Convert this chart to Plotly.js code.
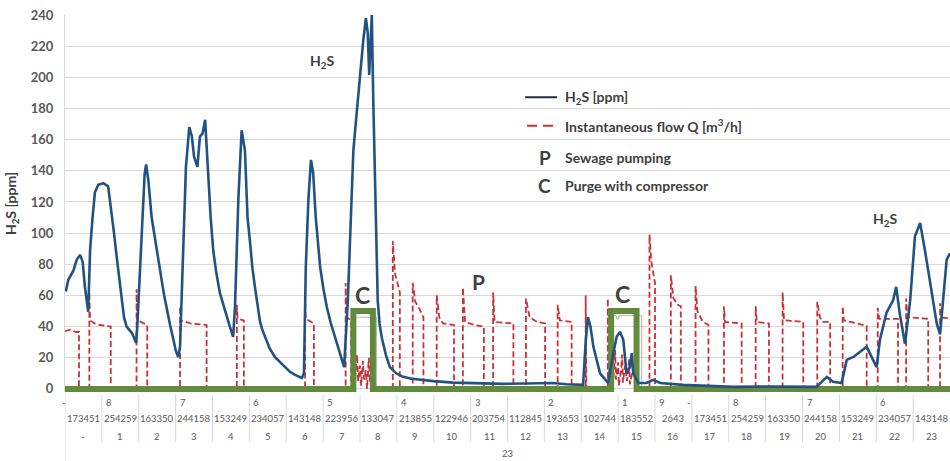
<!DOCTYPE html>
<html><head><meta charset="utf-8">
<script src="https://cdn.plot.ly/plotly-3.0.1.min.js"></script>
<style>html,body{margin:0;padding:0;background:#fff}#chart{width:950px;height:461px}</style>
</head><body><div id="chart"></div>
<script>
// ---- data (time in hours along the 24 categories) ----
const hourLabels = ['-','1','2','3','4','5','6','7','8','9','10','11','12','13','14','15','16','17','18','19','20','21','22','23'];
const secondLabels = ['173451','254259','163350','244158','153249','234057','143148','223956','133047','213855','122946','203754','112845','193653','102744','183552','2643','173451','254259','163350','244158','153249','234057','143148'];
const topLabels = ['-','8','7','6','5','4','3','2','1','9','-','8','7','6'];
const topLabelSlots = [0,1,3,5,7,9,11,13,15,16,17,18,20,22];
const dayLabel = '23';

const h2sTime = [0.00,0.03,0.09,0.23,0.32,0.41,0.48,0.54,0.63,0.68,0.74,0.81,0.90,1.04,1.17,1.27,1.33,1.40,1.47,1.54,1.60,1.67,1.74,1.81,1.87,1.93,1.96,2.03,2.11,2.16,2.20,2.26,2.35,2.42,2.49,2.56,2.62,2.69,2.76,2.85,2.94,3.00,3.07,3.12,3.19,3.28,3.37,3.44,3.50,3.59,3.66,3.73,3.80,3.89,3.95,4.02,4.10,4.20,4.30,4.39,4.47,4.56,4.61,4.70,4.79,4.88,4.95,5.02,5.08,5.15,5.22,5.29,5.35,5.42,5.55,5.69,5.83,5.97,6.10,6.24,6.42,6.48,6.53,6.60,6.67,6.73,6.80,6.86,6.92,7.01,7.10,7.21,7.32,7.41,7.50,7.57,7.67,7.73,7.82,7.91,8.00,8.09,8.16,8.21,8.25,8.32,8.36,8.41,8.48,8.53,8.59,8.70,8.81,8.98,9.17,9.40,9.63,10.00,10.52,11.00,11.88,12.50,13.23,13.60,14.05,14.12,14.18,14.25,14.33,14.51,14.73,14.87,14.96,15.05,15.14,15.23,15.32,15.37,15.41,15.55,15.77,15.95,16.14,16.76,17.50,18.12,19.00,19.70,20.28,20.38,20.66,20.83,21.06,21.20,21.38,21.65,21.74,22.01,22.10,22.28,22.46,22.54,22.64,22.78,22.92,23.05,23.19,23.32,23.46,23.64,23.73,23.82,23.91,24.00];
const h2sPpm = [64,63.5,70,76,83,86,81.5,65.5,49.5,89,108,126,131,132,130,113,100,85,70,55,46,40,38,36,33,29.5,40,78,121,138,144,134,110,99,89,79,70,60,51,41,31.5,25,20.5,27,78,142.5,168,162,149,142.5,162,164,172.7,132,110,89,75,61.6,53,46,40,33.4,52.6,121,166,153,110,93.7,78,65.5,53,43,38,33.4,26,20.5,17,14,11,9,7,10,78,121,147,138.6,110,92,78,64,52.6,42,33.4,25,18.6,14,57,100,153,177,203,224,238,228.6,201.5,240,185.5,121,57,42,33,22,14,10,7.7,6.5,5.8,5,4,3.6,3.2,3.5,3.8,3,2.6,30,46,40,27,10,3.8,23,33.4,36.6,31.5,10,14,23,10,3.8,3.8,5.8,3.8,2.6,1.8,1.3,1.5,1.2,1.3,1.3,7.7,4.5,3.8,18.6,20.5,25,27,14,31.5,49,57,65.5,48,29,57,98,106.5,89,68,42,35,60,83,87];

const flowTime = [0,0.15,0.30,0.38,0.38,0.66,0.66,0.68,0.80,0.95,1.24,1.24,1.94,1.94,1.96,2.23,2.23,3.12,3.12,3.14,3.40,3.84,3.84,4.66,4.66,4.68,4.85,4.85,6.51,6.51,6.53,6.75,6.75,7.61,7.61,7.63,7.76,7.76,7.84,7.86,7.92,7.95,8.00,8.03,8.08,8.11,8.16,8.19,8.24,8.27,8.33,8.35,8.41,8.43,8.89,8.89,8.95,9.03,9.08,9.08,9.43,9.43,9.50,9.62,9.72,9.72,10.08,10.08,10.15,10.25,10.55,10.55,10.79,10.79,10.85,11.10,11.36,11.36,11.61,11.61,11.65,12.16,12.16,12.50,12.50,12.60,12.80,13.02,13.02,13.36,13.36,13.42,13.74,13.74,14.12,14.12,14.14,14.72,14.72,14.74,14.79,14.83,14.86,14.92,14.94,15.00,15.02,15.08,15.11,15.13,15.19,15.24,15.30,15.32,15.38,15.44,15.47,15.52,15.54,15.85,15.85,15.90,15.95,16.00,16.00,16.43,16.43,16.50,16.62,16.70,16.70,17.10,17.10,17.15,17.30,17.45,17.45,17.87,17.87,17.90,18.35,18.35,18.73,18.73,18.76,19.09,19.09,19.46,19.46,19.50,20.02,20.02,20.40,20.40,20.47,20.55,20.75,20.75,21.09,21.09,21.12,21.45,21.74,21.74,22.04,22.04,22.08,22.59,22.59,22.81,22.81,22.84,23.41,23.41,23.73,23.73,23.76,24.00];
const flowRate = [37,38,36.5,36.5,0,0,62,44,42,41,40,0,0,64,44,41,0,0,53,44,42,41,0,0,54,45,44,0,0,57,45,42,0,0,68,46,44,0,10,3,22,5,15,2,18,6,12,0,20,4,14,8,3,0,0,95,74,66,62,0,0,68,56,51,46,0,0,60,46,42,41,0,0,65,43,41,40,0,0,62,43,42,0,0,58,46,43,42,0,0,54,44,43,0,0,60,0,0,58,0,8,20,3,25,6,17,2,12,22,4,15,5,19,3,10,16,2,8,0,0,99,82,75,68,0,0,73,58,54,53,0,0,66,50,43,41,0,0,53,43,42,0,0,53,43,42,0,0,62,44,43,0,0,56,46,43,43,0,0,53,44,42,40.5,0,0,52,45,45,0,0,58,46,45,0,0,55,46,45];

const purgeTime = [0,7.82,7.82,8.35,8.35,14.81,14.81,15.50,15.50,24];
const purgeLevel = [0,0,50,50,0,0,50,50,0,0];

const compTime = [0,7.82,7.82,8.45,8.45,14.83,14.83,14.95,14.95,15.02,15.02,15.64,15.64,24];
const compLevel = [0,0,46,46,0,0,47,47,45,45,47,47,0,0];

const notes = [
  {text:'H<sub>2</sub>S', x:6.97, y:210, size:14},
  {text:'H<sub>2</sub>S', x:22.24, y:109, size:14},
  {text:'C', x:8.08, y:60, size:23},
  {text:'P', x:11.2, y:69, size:21},
  {text:'C', x:15.13, y:61, size:23}
];

// ---- figure ----
const FONT = 'Lato, "Open Sans", sans-serif';
const traces = [
  {x:flowTime, y:flowRate, mode:'lines', line:{color:'#c8303a', width:1.8, dash:'6px,3px'}, hoverinfo:'skip', showlegend:false},
  {x:compTime, y:compLevel, mode:'lines', line:{color:'#b4b4b4', width:1}, hoverinfo:'skip', showlegend:false},
  {x:purgeTime, y:purgeLevel, mode:'lines', line:{color:'#628a3d', width:6}, hoverinfo:'skip', showlegend:false},
  {x:h2sTime, y:h2sPpm, mode:'lines', line:{color:'#215282', width:2.6}, hoverinfo:'skip', showlegend:false}
];

const annotations = [];
notes.forEach(n => annotations.push({x:n.x, y:n.y, xref:'x', yref:'y', text:'<b>'+n.text+'</b>', showarrow:false, font:{family:FONT, size:n.size, color:'#404040'}}));

const lblFont = {family:FONT, size:9.5, color:'#595959'};
hourLabels.forEach((t,i) => annotations.push({x:i+0.5, y:-0.117, xref:'x', yref:'paper', text:t, showarrow:false, font:lblFont, yanchor:'middle'}));
secondLabels.forEach((t,i) => annotations.push({x:i+0.5, y:-0.069, xref:'x', yref:'paper', text:t, showarrow:false, font:lblFont, yanchor:'middle'}));
topLabels.forEach((t,i) => annotations.push({x:topLabelSlots[i], y:-0.029, xref:'x', yref:'paper', text:t, showarrow:false, font:lblFont, yanchor:'middle', xanchor: t==='-' ? 'center' : 'left', xshift: t==='-' ? (i===0?-1:-3) : 2}));
annotations.push({x:12, y:-0.164, xref:'x', yref:'paper', text:dayLabel, showarrow:false, font:lblFont, yanchor:'middle'});

// legend (custom)
const legFont = {family:FONT, size:14, color:'#404040'};
const legRows = [
  {y:0.782, text:'<b>H<sub>2</sub>S [ppm]</b>'},
  {y:0.706, text:'<b>Instantaneous flow Q [m<sup>3</sup>/h]</b>'},
  {y:0.623, text:'<b>Sewage pumping</b>', sym:'P'},
  {y:0.549, text:'<b>Purge with compressor</b>', sym:'C'}
];
legRows.forEach(r => {
  annotations.push({x:0.563, y:r.y, xref:'paper', yref:'paper', text:r.text, showarrow:false, xanchor:'left', yanchor:'middle', font:legFont});
  if (r.sym) annotations.push({x:0.542, y:r.y, xref:'paper', yref:'paper', text:'<b>'+r.sym+'</b>', showarrow:false, xanchor:'center', yanchor:'middle', font:{family:FONT, size:19, color:'#404040'}});
});

const shapes = [
  {type:'line', xref:'paper', yref:'paper', x0:0.520, x1:0.556, y0:0.782, y1:0.782, line:{color:'#1f2b47', width:2}},
  {type:'line', xref:'paper', yref:'paper', x0:0.522, x1:0.556, y0:0.706, y1:0.706, line:{color:'#d0303a', width:2, dash:'10px,6px'}}
];
for (let i = 1; i < hourLabels.length; i++) {
  shapes.push({type:'line', xref:'x', yref:'paper', x0:i, x1:i, y0:-0.008, y1:-0.133, line:{color:'#d9d9d9', width:1}});
}
shapes.push({type:'line', xref:'x', yref:'paper', x0:0, x1:0, y0:0, y1:-0.19, line:{color:'#d9d9d9', width:1}});

const layout = {
  width:950, height:461,
  margin:{l:65, r:0, t:15, b:69},
  paper_bgcolor:'#fff', plot_bgcolor:'#fff',
  showlegend:false,
  xaxis:{range:[0,24], showgrid:false, zeroline:false, showticklabels:false, ticks:'', showline:false, fixedrange:true},
  yaxis:{range:[-2,240], tick0:0, dtick:20, gridcolor:'#d9d9d9', gridwidth:1, zeroline:false, showline:true, linecolor:'#d9d9d9', ticks:'',
         tickfont:{family:FONT, size:13, color:'#595959', weight:'bold'}, ticklabelstandoff:8,
         title:{text:'<b>H<sub>2</sub>S [ppm]</b>', font:{family:FONT, size:14, color:'#404040'}, standoff:10}},
  annotations:annotations,
  shapes:shapes
};
Plotly.newPlot('chart', traces, layout, {staticPlot:true, displayModeBar:false});
</script>
</body></html>
